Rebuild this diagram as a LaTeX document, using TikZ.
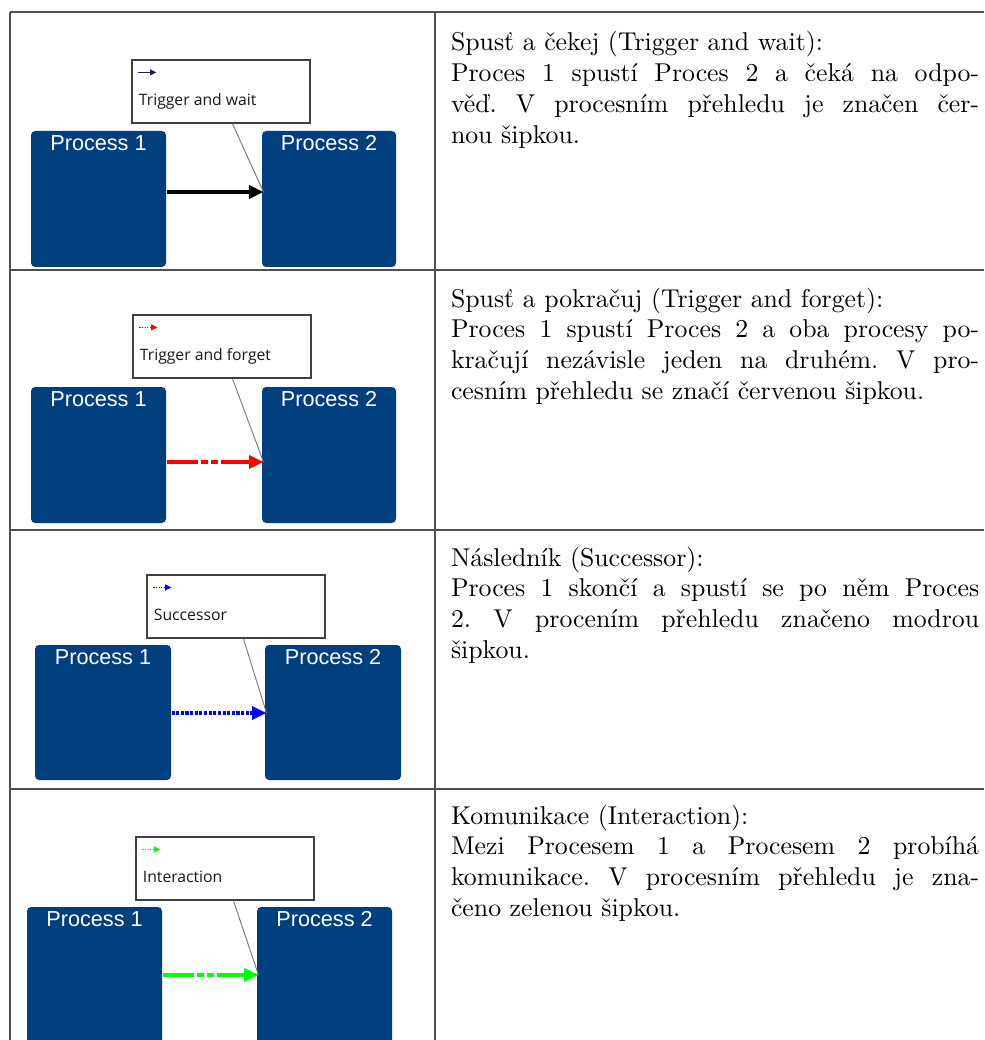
\documentclass[tikz,border=0pt]{standalone}
\usepackage{fontspec}
\newfontfamily\arialfont{Liberation Sans}
\newfontfamily\uifont{Open Sans}
\usetikzlibrary{arrows.meta,fit,calc}
\frenchspacing

\definecolor{procblue}{RGB}{0,63,126}
\definecolor{rulecol}{RGB}{80,80,80}
\definecolor{navyarrow}{RGB}{30,30,90}
\definecolor{leadergray}{RGB}{120,120,120}
\definecolor{fwdred}{RGB}{255,0,0}
\definecolor{succblue}{RGB}{0,0,255}
\definecolor{intgreen}{RGB}{0,255,0}

\tikzset{
  procbox/.style={fit={#1}, inner sep=0pt, fill=procblue, rounded corners=1.6pt},
  plabel/.style={font=\arialfont\fontsize{8.4}{10}\selectfont, text=white, anchor=base, inner sep=0pt},
  callout/.style={fit={#1}, inner sep=0pt, draw=black!75, line width=0.45pt, fill=white},
  ctext/.style={font=\uifont\fontsize{6.1}{7}\selectfont, text=black!90, anchor=base west, inner sep=0pt},
  mainarrow/.style={line width=1.3pt, -{Triangle[length=5.6pt,width=5pt]}},
  keyarrow/.style={line width=0.6pt, -{Triangle[length=2.4pt,width=2.2pt]}},
  leader/.style={draw=leadergray, line width=0.35pt},
  tablerule/.style={draw=rulecol, line width=0.4pt},
  desc/.style={anchor=base west, inner sep=0pt, text width=7.2cm, align=justify,
    execute at begin node={\tolerance=10000 \hbadness=10000 \frenchspacing}},
  dashdotline/.style={dash pattern=on 12.4pt off 1pt on 2.7pt off 1pt on 2.7pt off 1.2pt},
  dottedline/.style={dash pattern=on 1.2pt off 0.6pt},
  keydots/.style={dash pattern=on 0.5pt off 0.5pt}
}

\begin{document}
\begin{tikzpicture}[x=0.3879pt, y=-0.3879pt]
  \clip (0,0) rectangle (984,1040);
  \fill[white] (0,0) rectangle (984,1040);

  % table rules
  \foreach \ry in {12,270,530,789} \draw[tablerule] (10,\ry) -- (984,\ry);
  \foreach \rx in {10,435} \draw[tablerule] (\rx,12) -- (\rx,1040);

  % ---- row 1: trigger and wait
  \node[procbox={(31,131) (166,267)}] (r1p1) {};
  \node[procbox={(262,131) (396,267)}] (r1p2) {};
  \node[plabel] at ($(r1p1.north)+(0,20.5)$) {Process 1};
  \node[plabel] at ($(r1p2.north)+(0,20.5)$) {Process 2};
  \coordinate (r1tip) at ($(r1p2.west |- 0,192)+(2,0)$);
  \draw[mainarrow, black] (r1p1.east |- r1tip) -- (r1tip);
  \node[callout={(132,60) (310,123)}] (r1c) {};
  \draw[leader] ($(r1c.south west)+(101,0)$) -- (r1tip);
  \draw[keyarrow, navyarrow] ($(r1c.north west)+(7,13)$) -- ++(18,0);
  \node[ctext] at ($(r1c.north west)+(7,46)$) {Trigger and wait};
  \node[desc] (r1t) at (450.5,51) {Spusť a čekej (Trigger and wait):\\
    Proces 1 spustí Proces 2 a čeká na odpo-\linebreak
    věď. V procesním přehledu je značen čer-\linebreak
    nou šipkou.};

  % ---- row 2: trigger and forget
  \node[procbox={(31,387) (166,523)}] (r2p1) {};
  \node[procbox={(262,387) (396,523)}] (r2p2) {};
  \node[plabel] at ($(r2p1.north)+(0,20.5)$) {Process 1};
  \node[plabel] at ($(r2p2.north)+(0,20.5)$) {Process 2};
  \coordinate (r2tip) at ($(r2p2.west |- 0,462)+(2,0)$);
  \draw[mainarrow, fwdred, dashdotline] (r2p1.east |- r2tip) -- (r2tip);
  \node[callout={(133,315) (311,378)}] (r2c) {};
  \draw[leader] ($(r2c.south west)+(100,0)$) -- (r2tip);
  \draw[keyarrow, fwdred, keydots] ($(r2c.north west)+(7,13)$) -- ++(18,0);
  \node[ctext] at ($(r2c.north west)+(7,46)$) {Trigger and forget};
  \node[desc] (r2t) at (450.5,307) {Spusť a pokračuj (Trigger and forget):\\
    Proces 1 spustí Proces 2 a oba procesy po-\linebreak
    kračují nezávisle jeden na druhém. V pro-\linebreak
    cesním přehledu se značí červenou šipkou.};

  % ---- row 3: successor
  \node[procbox={(35,645) (171,780)}] (r3p1) {};
  \node[procbox={(265,645) (401,780)}] (r3p2) {};
  \node[plabel] at ($(r3p1.north)+(0,20.5)$) {Process 1};
  \node[plabel] at ($(r3p2.north)+(0,20.5)$) {Process 2};
  \coordinate (r3tip) at ($(r3p2.west |- 0,713)+(2,0)$);
  \draw[mainarrow, succblue, dottedline] (r3p1.east |- r3tip) -- (r3tip);
  \node[callout={(147,575) (325,638)}] (r3c) {};
  \draw[leader] ($(r3c.south west)+(97,0)$) -- (r3tip);
  \draw[keyarrow, succblue, keydots] ($(r3c.north west)+(7,13)$) -- ++(18,0);
  \node[ctext] at ($(r3c.north west)+(7,46)$) {Successor};
  \node[desc] (r3t) at (450.5,566) {Následník (Successor):\\
    Proces 1 skončí a spustí se po něm Proces\linebreak
    2. V procením přehledu značeno modrou\linebreak
    šipkou.};

  % ---- row 4: interaction
  \node[procbox={(27,907) (162,1050)}] (r4p1) {};
  \node[procbox={(257,907) (392,1050)}] (r4p2) {};
  \node[plabel] at ($(r4p1.north)+(0,20.5)$) {Process 1};
  \node[plabel] at ($(r4p2.north)+(0,20.5)$) {Process 2};
  \coordinate (r4tip) at ($(r4p2.west |- 0,975)+(2,0)$);
  \draw[mainarrow, intgreen, dashdotline] (r4p1.east |- r4tip) -- (r4tip);
  \node[callout={(136,837) (314,900)}] (r4c) {};
  \draw[leader] ($(r4c.south west)+(98,0)$) -- (r4tip);
  \draw[keyarrow, intgreen, keydots] ($(r4c.north west)+(7,13)$) -- ++(18,0);
  \node[ctext] at ($(r4c.north west)+(7,46)$) {Interaction};
  \node[desc] (r4t) at (450.5,824) {Komunikace (Interaction):\\
    Mezi Procesem 1 a Procesem 2 probíhá\linebreak
    komunikace. V procesním přehledu je zna-\linebreak
    čeno zelenou šipkou.};
\end{tikzpicture}
\end{document}
